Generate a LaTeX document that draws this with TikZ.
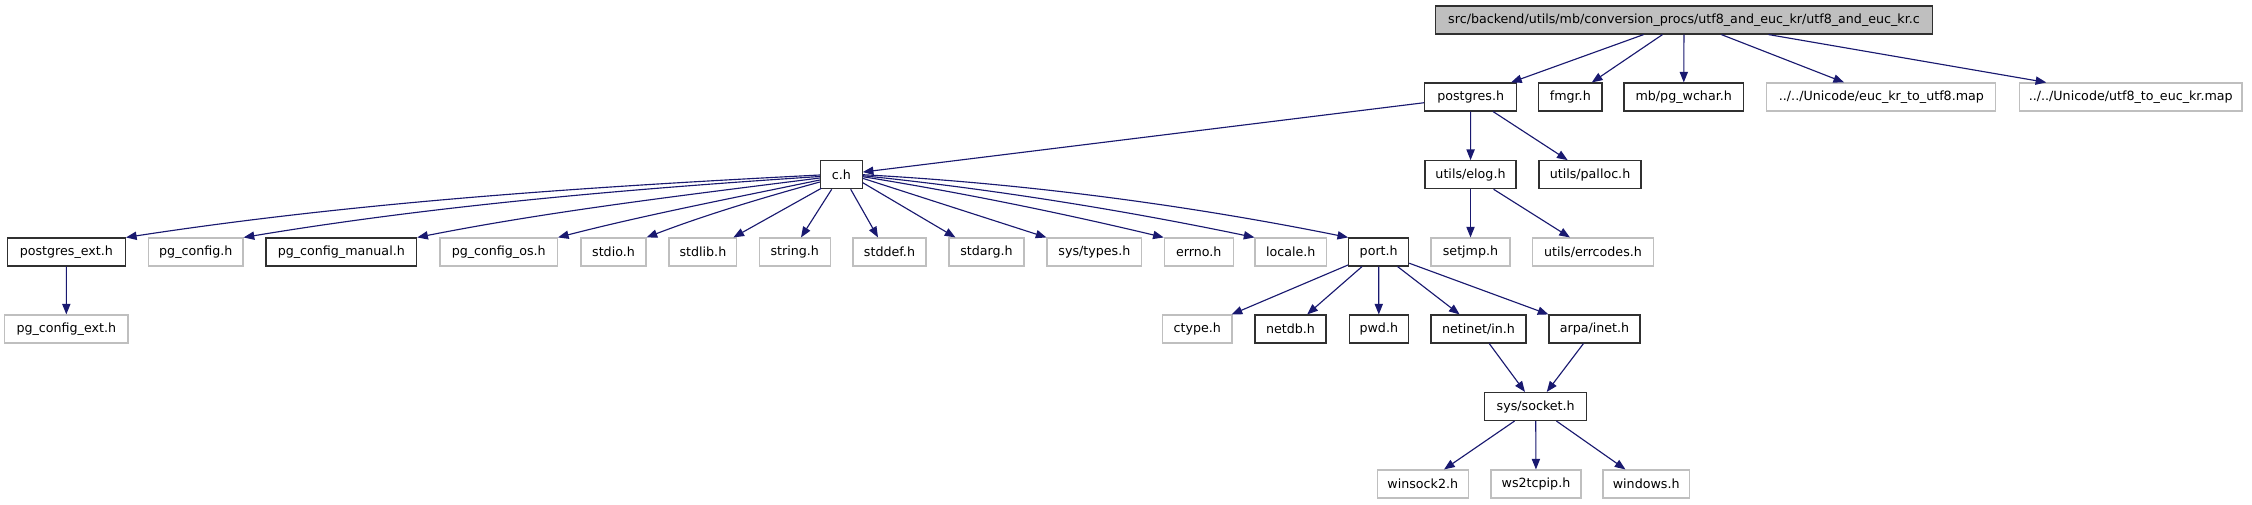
\documentclass[tikz,border=0pt]{standalone}
\usepackage{fontspec}
\setmainfont{DejaVu Sans}
\usetikzlibrary{arrows.meta,calc}
\definecolor{edgeblue}{HTML}{191970}
\definecolor{grayline}{HTML}{BFBFBF}
\definecolor{mainfill}{HTML}{BFBFBF}
\definecolor{docline}{HTML}{303030}
\tikzset{
  base/.style={rectangle, inner sep=0pt, minimum height=21pt,
    font=\fontsize{9.5pt}{11pt}\selectfont, fill=white, line width=0.85pt},
  doc/.style={base, draw=docline},
  undoc/.style={base, draw=grayline},
  mainnode/.style={base, draw=docline, fill=mainfill},
  bw/.style={minimum width=#1*0.75pt},
  dep/.style={draw=edgeblue, line width=0.85pt, -{Triangle[length=8pt,width=6.2pt]}},
}
\begin{document}
\begin{tikzpicture}[x=0.75pt,y=-0.75pt]
\useasboundingbox (0,0) rectangle (2252,504);
\fill[white] (0,0) rectangle (2252,504);
% row 1
\node[mainnode,bw=497] (main) at (1684,20) {src/backend/utils/mb/conversion\_procs/utf8\_and\_euc\_kr/utf8\_and\_euc\_kr.c};
% row 2
\node[doc,bw=92] (pgres) at (1470.7,97) {postgres.h};
\node[doc,bw=63.4] (fmgr) at (1570.3,97) {fmgr.h};
\node[doc,bw=119.5] (wchar) at (1683.7,97) {mb/pg\_wchar.h};
\node[undoc,bw=229] (eucmap) at (1881.4,97) {../../Unicode/euc\_kr\_to\_utf8.map};
\node[undoc,bw=222.6] (utfmap) at (2130.7,97) {../../Unicode/utf8\_to\_euc\_kr.map};
% row 3
\node[doc,bw=41.8] (ch) at (841.3,174.7) {c.h};
\node[doc,bw=91] (elog) at (1470.5,174.7) {utils/elog.h};
\node[doc,bw=102] (palloc) at (1590,174.7) {utils/palloc.h};
% row 4
\node[doc,bw=118] (pgext) at (66.4,252) {postgres\_ext.h};
\node[undoc,bw=94.5] (pgconfig) at (195.8,252) {pg\_config.h};
\node[doc,bw=150.7] (pgman) at (341.3,252) {pg\_config\_manual.h};
\node[undoc,bw=117.4] (pgos) at (498.7,252) {pg\_config\_os.h};
\node[undoc,bw=65] (stdio) at (613.5,252) {stdio.h};
\node[undoc,bw=67.8] (stdlib) at (702.9,252) {stdlib.h};
\node[undoc,bw=71] (string) at (794.7,252) {string.h};
\node[undoc,bw=73] (stddef) at (889.5,252) {stddef.h};
\node[undoc,bw=75] (stdarg) at (986.5,252) {stdarg.h};
\node[undoc,bw=94.8] (systypes) at (1094.4,252) {sys/types.h};
\node[undoc,bw=69] (errno) at (1198.8,252) {errno.h};
\node[undoc,bw=71.5] (locale) at (1290.8,252) {locale.h};
\node[doc,bw=60] (port) at (1378.7,252) {port.h};
\node[undoc,bw=79] (setjmp) at (1470.5,252) {setjmp.h};
\node[undoc,bw=120.6] (errcodes) at (1593,252) {utils/errcodes.h};
% row 5
\node[undoc,bw=123.3] (pgcext) at (66.3,329) {pg\_config\_ext.h};
\node[undoc,bw=69.4] (ctype) at (1197.3,329) {ctype.h};
\node[doc,bw=71] (netdb) at (1290.5,329) {netdb.h};
\node[doc,bw=59.5] (pwd) at (1378.8,329) {pwd.h};
\node[doc,bw=95] (netinet) at (1478.5,329) {netinet/in.h};
\node[doc,bw=91] (arpa) at (1594.5,329) {arpa/inet.h};
% row 6
\node[doc,bw=102] (socket) at (1535.7,406.5) {sys/socket.h};
% row 7
\node[undoc,bw=90.5] (winsock) at (1422.8,484) {winsock2.h};
\node[undoc,bw=90] (ws2) at (1536,484) {ws2tcpip.h};
\node[undoc,bw=86.4] (windows) at (1646.2,484) {windows.h};

% edges
\draw[dep] (main) -- (pgres);
\draw[dep] (main) -- (fmgr);
\draw[dep] (main) -- (wchar);
\draw[dep] (main) -- (eucmap);
\draw[dep] (main) -- (utfmap);
\draw[dep] (pgres) -- (ch);
\draw[dep] (pgres) -- (elog);
\draw[dep] (pgres) -- (palloc);
\draw[dep] (elog) -- (setjmp);
\draw[dep] (elog) -- (errcodes);
\draw[dep] (pgext) -- (pgcext);
% c.h left fan
\draw[dep] ($(ch.west)+(0,0.3)$) .. controls (589,186.7) and (357,202) .. (pgext.north east);
\draw[dep] ($(ch.west)+(0,1.8)$) .. controls (628,189) and (435.6,205.5) .. (pgconfig.north east);
\draw[dep] ($(ch.west)+(0,3.3)$) .. controls (686,195) and (551,211) .. (pgman.north east);
\draw[dep] ($(ch.west)+(0,5.3)$) .. controls (733,198) and (645,215) .. (pgos.north east);
\draw[dep] ($(ch.west)+(0,7.3)$) .. controls (762.5,197.7) and (704.2,215.3) .. (stdio.north east);
\draw[dep] ($(ch.south west)+(1.5,-1)$) -- ($(stdlib.north east)+(-4,0)$);
% c.h right fan
\draw[dep] ($(ch.south)+(-9.6,0)$) -- ($(string.north)+(6.3,0)$);
\draw[dep] ($(ch.south)+(9.4,0)$) -- ($(stddef.north)+(-11.5,0)$);
\draw[dep] ($(ch.east)+(0,8)$) -- ($(stdarg.north west)+(7,0)$);
\draw[dep] ($(ch.east)+(0,3.6)$) -- (systypes.north west);
\draw[dep] ($(ch.east)+(0,2)$) .. controls (962.8,192.8) and (1063.5,213.5) .. (errno.north west);
\draw[dep] ($(ch.east)+(0,1)$) .. controls (993,189.1) and (1124,210.3) .. (locale.north west);
\draw[dep] (ch.east) .. controls (1024,183.4) and (1186,204.8) .. (port.north west);
% port fan
\draw[dep] (port) -- (ctype);
\draw[dep] (port) -- (netdb);
\draw[dep] (port) -- (pwd);
\draw[dep] (port) -- (netinet);
\draw[dep] (port) -- (arpa.north west);
\draw[dep] (netinet) -- (socket);
\draw[dep] (arpa) -- (socket);
\draw[dep] (socket) -- (winsock);
\draw[dep] (socket) -- (ws2);
\draw[dep] (socket) -- (windows);
\end{tikzpicture}
\end{document}
